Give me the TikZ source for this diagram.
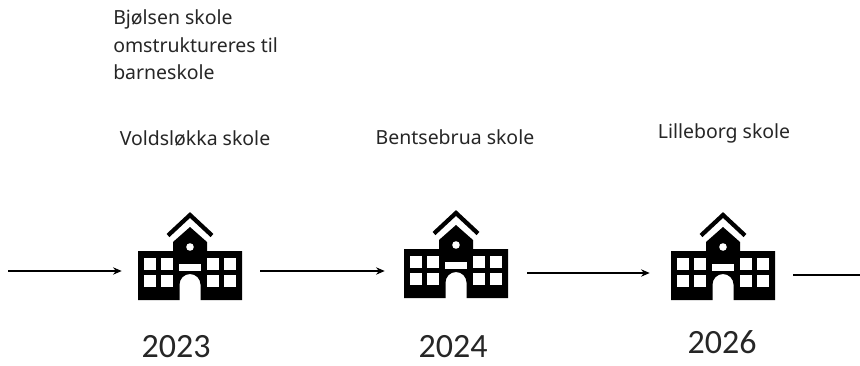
\documentclass[tikz,border=0pt]{standalone}
\usepackage{fontspec}
\setmainfont{Noto Sans}
\newfontfamily\yearfont{Carlito}
\usetikzlibrary{arrows.meta}
\tikzset{
  x=0.75pt,y=-0.75pt,
  label text/.style={font=\fontsize{14.6pt}{20.6pt}\selectfont,text=black!85,inner sep=0pt,align=left},
  year text/.style={font=\yearfont\fontsize{25.5pt}{28pt}\selectfont,text=black!85,inner sep=0pt},
  hub/.style={minimum width=#1*0.75pt,minimum height=10pt,inner sep=0pt},
  link/.style={draw=black,line width=0.9pt},
  arrowlink/.style={link,-{Stealth[length=6.5pt,width=5.5pt]}},
  pics/school/.style={code={
    \draw[black,line width=3.2pt,miter limit=10] (-22,-64.5) -- (0,-85) -- (22,-64.5);
    \fill[black] (-52,0) -- (-52,-49) -- (-17,-49) -- (-17,-58) -- (0,-73) -- (17,-58) -- (17,-49) -- (52,-49) -- (52,0) -- (10.5,0) -- (10.5,-15.5)
       arc[start angle=0,end angle=-180,radius=10.5] -- (-10.5,0) -- cycle;
    \foreach \wx in {-46,-29,17,34}{
      \foreach \wy in {-42,-25}{
        \fill[white] (\wx,\wy) rectangle ++(12,12);
      }
    }
    \fill[white] (-11,-36) rectangle (11,-29.5);
    \fill[white] (0,-53) circle[radius=3.8];
  }}
}
\begin{document}
\begin{tikzpicture}
\useasboundingbox (0,0) rectangle (860,365);
\fill[white] (0,0) rectangle (860,365);
\pic at (190,300) {school};
\pic at (456,298) {school};
\pic at (723,300) {school};
\node[hub=138] (s1) at (191,271) {};
\node[hub=142] (s2) at (456,271) {};
\node[hub=143] (s3) at (721.5,273) {};
\coordinate (startpt) at (8,271);
\coordinate (endpt) at (860,275);
\draw[arrowlink] (startpt) -- (s1.west);
\draw[arrowlink] (s1.east) -- (s2.west);
\draw[arrowlink] (s2.east |- s3.west) -- (s3.west);
\draw[link] (s3.east |- endpt) -- (endpt);
\node[label text,anchor=north west] (note) at (113,9.5) {Bjølsen skole\\omstruktureres til\\barneskole};
\node[label text,anchor=center] (t1) at (195,138) {Voldsløkka skole};
\node[label text,anchor=center] (t2) at (455,137) {Bentsebrua skole};
\node[label text,anchor=center] (t3) at (724,133) {Lilleborg skole};
\node[year text] (y1) at (176,347) {2023};
\node[year text] (y2) at (453,347) {2024};
\node[year text] (y3) at (722,342) {2026};
\end{tikzpicture}
\end{document}
